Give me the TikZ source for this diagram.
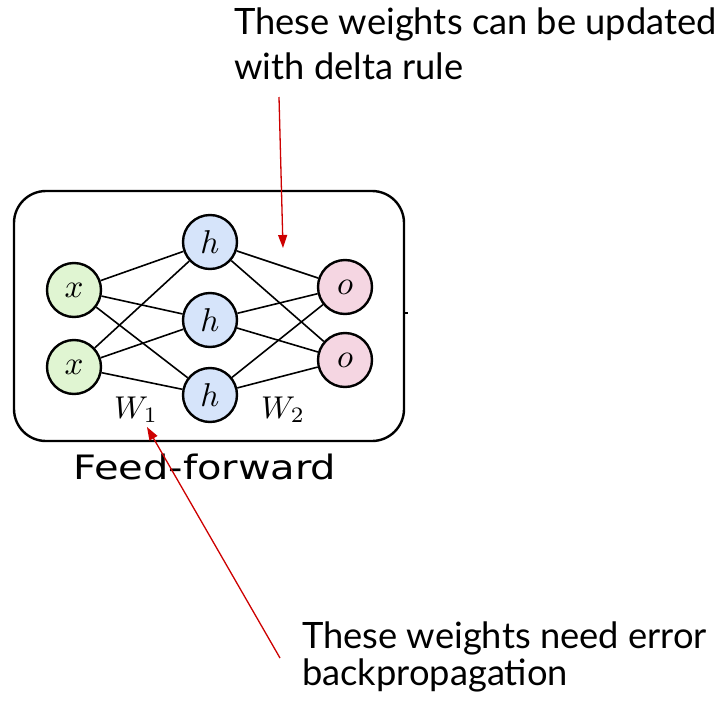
\documentclass[tikz,border=0pt]{standalone}
\usepackage{fontspec}
\setmainfont{Lato}
\newfontfamily\captionfont[FakeStretch=1.19]{DejaVu Sans}
\usetikzlibrary{arrows.meta}

\definecolor{inputfill}{RGB}{224,245,210}
\definecolor{hiddenfill}{RGB}{214,228,250}
\definecolor{outputfill}{RGB}{245,214,226}
\definecolor{notered}{RGB}{205,0,0}

\newcommand{\bigmath}[1]{\scalebox{3.3}{$#1$}}

\tikzset{
  unit/.style={circle, draw=black, line width=2.4pt, minimum size=54pt, inner sep=0pt},
  inunit/.style={unit, fill=inputfill},
  hidunit/.style={unit, fill=hiddenfill},
  outunit/.style={unit, fill=outputfill},
  weight/.style={draw=black, line width=1.6pt},
  wlabel/.style={anchor=base, inner sep=0pt},
  note/.style={anchor=base west, inner sep=0pt, align=left},
  pointer/.style={draw=notered, line width=1.3pt, -{Triangle[length=13pt,width=9pt]}},
}

\begin{document}
\begin{tikzpicture}[x=1pt,y=-1pt]
  \useasboundingbox (0,0) rectangle (725,701);

  % frame around the network
  \draw[line width=2.4pt, rounded corners=32pt] (14,191) rectangle (404,441);
  \draw[line width=2pt] (404,313) -- (408,313);

  % units
  \node[inunit]  (x1) at (74,290) {\bigmath{x}};
  \node[inunit]  (x2) at (74,367) {\bigmath{x}};
  \node[hidunit] (h1) at (210,242) {\bigmath{h}};
  \node[hidunit] (h2) at (210,320) {\bigmath{h}};
  \node[hidunit] (h3) at (210,395) {\bigmath{h}};
  \node[outunit] (o1) at (345,287) {\bigmath{o}};
  \node[outunit] (o2) at (345,360) {\bigmath{o}};

  % weights
  \foreach \a in {x1,x2}
    \foreach \b in {h1,h2,h3}
      \draw[weight] (\a) -- (\b);
  \foreach \a in {h1,h2,h3}
    \foreach \b in {o1,o2}
      \draw[weight] (\a) -- (\b);

  \node[wlabel] (w1) at (136,418) {\scalebox{3.15}{$W_1$}};
  \node[wlabel] (w2) at (283,418) {\scalebox{3.15}{$W_2$}};

  \node[font=\captionfont\fontsize{33.6}{40}\selectfont, anchor=base west, inner sep=0pt]
    (cap) at (73,479) {Feed-forward};

  % annotations
  \node[note, font=\fontsize{36.3}{45}\selectfont] (top) at (234,79)
    {These weights can be updated\\with delta rule};
  \node[note, font=\fontsize{36.3}{37}\selectfont] (bot) at (302,685)
    {These weights need error\\backpropagation};

  \coordinate (topstart) at (279,97);
  \coordinate (topend) at (283,248);
  \coordinate (botstart) at (280,658);
  \coordinate (botend) at (147,427);
  \draw[pointer] (topstart) -- (topend);
  \draw[pointer] (botstart) -- (botend);
\end{tikzpicture}
\end{document}
